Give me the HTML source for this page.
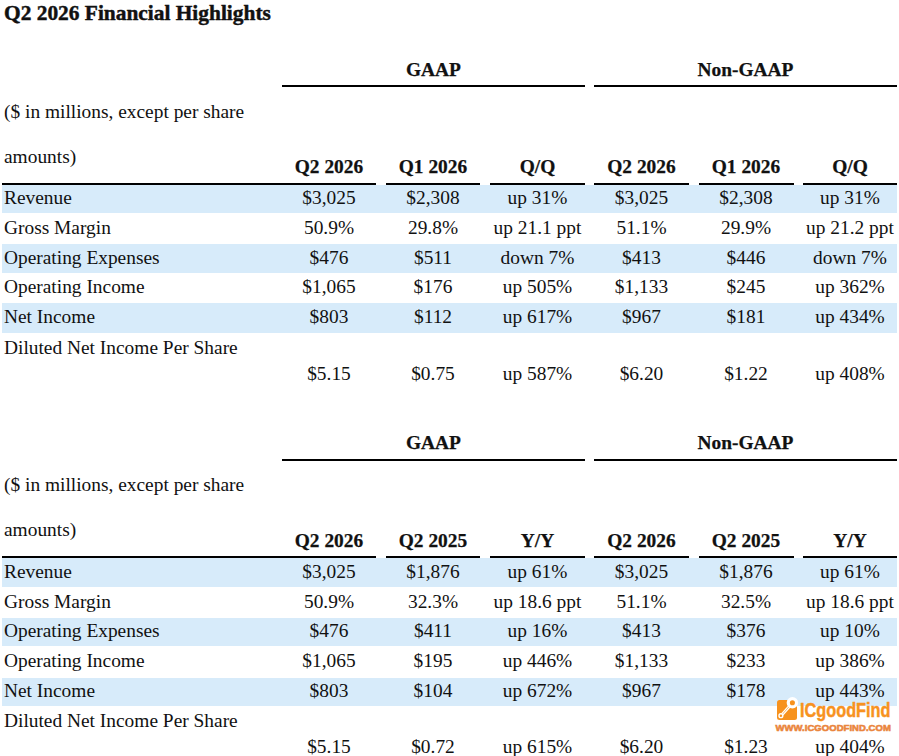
<!DOCTYPE html>
<html><head><meta charset="utf-8"><style>
html,body{margin:0;padding:0;background:#fff;width:899px;height:756px;overflow:hidden;}
body{position:relative;font-family:"Liberation Serif",serif;color:#111;}
.t{position:absolute;white-space:nowrap;}
.r{position:absolute;}
</style></head><body>
<div class="t" style="left:4.00px;top:3.08px;font-size:21.4px;line-height:21.4px;font-weight:bold;-webkit-text-stroke:0.25px #111;-webkit-text-stroke:0.45px #111;">Q2 2026 Financial Highlights</div>
<div class="r" style="left:2px;top:185px;width:894.5px;height:28px;background:#D7EBFA"></div>
<div class="r" style="left:2px;top:244px;width:894.5px;height:29px;background:#D7EBFA"></div>
<div class="r" style="left:2px;top:303px;width:894.5px;height:30px;background:#D7EBFA"></div>
<div class="r" style="left:282px;top:85px;width:303px;height:2px;background:#000"></div>
<div class="r" style="left:594px;top:85px;width:303px;height:2px;background:#000"></div>
<div class="t" style="left:283.50px;width:300px;text-align:center;top:59.75px;font-size:19.4px;line-height:19.4px;font-weight:bold;-webkit-text-stroke:0.25px #111;">GAAP</div>
<div class="t" style="left:595.50px;width:300px;text-align:center;top:59.75px;font-size:19.4px;line-height:19.4px;font-weight:bold;-webkit-text-stroke:0.25px #111;">Non-GAAP</div>
<div class="t" style="left:4.00px;top:101.75px;font-size:19.4px;line-height:19.4px;">($ in millions, except per share</div>
<div class="t" style="left:4.00px;top:146.75px;font-size:19.4px;line-height:19.4px;">amounts)</div>
<div class="t" style="left:179.00px;width:300px;text-align:center;top:156.75px;font-size:19.4px;line-height:19.4px;font-weight:bold;-webkit-text-stroke:0.25px #111;">Q2 2026</div>
<div class="t" style="left:283.00px;width:300px;text-align:center;top:156.75px;font-size:19.4px;line-height:19.4px;font-weight:bold;-webkit-text-stroke:0.25px #111;">Q1 2026</div>
<div class="t" style="left:387.50px;width:300px;text-align:center;top:156.75px;font-size:19.4px;line-height:19.4px;font-weight:bold;-webkit-text-stroke:0.25px #111;">Q/Q</div>
<div class="t" style="left:491.50px;width:300px;text-align:center;top:156.75px;font-size:19.4px;line-height:19.4px;font-weight:bold;-webkit-text-stroke:0.25px #111;">Q2 2026</div>
<div class="t" style="left:596.00px;width:300px;text-align:center;top:156.75px;font-size:19.4px;line-height:19.4px;font-weight:bold;-webkit-text-stroke:0.25px #111;">Q1 2026</div>
<div class="t" style="left:700.00px;width:300px;text-align:center;top:156.75px;font-size:19.4px;line-height:19.4px;font-weight:bold;-webkit-text-stroke:0.25px #111;">Q/Q</div>
<div class="r" style="left:2px;top:183px;width:374px;height:2px;background:#000"></div>
<div class="r" style="left:386px;top:183px;width:94px;height:2px;background:#000"></div>
<div class="r" style="left:490px;top:183px;width:95px;height:2px;background:#000"></div>
<div class="r" style="left:594px;top:183px;width:95px;height:2px;background:#000"></div>
<div class="r" style="left:699px;top:183px;width:94.5px;height:2px;background:#000"></div>
<div class="r" style="left:803px;top:183px;width:94px;height:2px;background:#000"></div>
<div class="t" style="left:4.00px;top:187.75px;font-size:19.4px;line-height:19.4px;">Revenue</div>
<div class="t" style="left:179.00px;width:300px;text-align:center;top:187.75px;font-size:19.4px;line-height:19.4px;">$3,025</div>
<div class="t" style="left:283.00px;width:300px;text-align:center;top:187.75px;font-size:19.4px;line-height:19.4px;">$2,308</div>
<div class="t" style="left:387.50px;width:300px;text-align:center;top:187.75px;font-size:19.4px;line-height:19.4px;">up 31%</div>
<div class="t" style="left:491.50px;width:300px;text-align:center;top:187.75px;font-size:19.4px;line-height:19.4px;">$3,025</div>
<div class="t" style="left:596.00px;width:300px;text-align:center;top:187.75px;font-size:19.4px;line-height:19.4px;">$2,308</div>
<div class="t" style="left:700.00px;width:300px;text-align:center;top:187.75px;font-size:19.4px;line-height:19.4px;">up 31%</div>
<div class="t" style="left:4.00px;top:217.75px;font-size:19.4px;line-height:19.4px;">Gross Margin</div>
<div class="t" style="left:179.00px;width:300px;text-align:center;top:217.75px;font-size:19.4px;line-height:19.4px;">50.9%</div>
<div class="t" style="left:283.00px;width:300px;text-align:center;top:217.75px;font-size:19.4px;line-height:19.4px;">29.8%</div>
<div class="t" style="left:387.50px;width:300px;text-align:center;top:217.75px;font-size:19.4px;line-height:19.4px;">up 21.1 ppt</div>
<div class="t" style="left:491.50px;width:300px;text-align:center;top:217.75px;font-size:19.4px;line-height:19.4px;">51.1%</div>
<div class="t" style="left:596.00px;width:300px;text-align:center;top:217.75px;font-size:19.4px;line-height:19.4px;">29.9%</div>
<div class="t" style="left:700.00px;width:300px;text-align:center;top:217.75px;font-size:19.4px;line-height:19.4px;">up 21.2 ppt</div>
<div class="t" style="left:4.00px;top:247.75px;font-size:19.4px;line-height:19.4px;">Operating Expenses</div>
<div class="t" style="left:179.00px;width:300px;text-align:center;top:247.75px;font-size:19.4px;line-height:19.4px;">$476</div>
<div class="t" style="left:283.00px;width:300px;text-align:center;top:247.75px;font-size:19.4px;line-height:19.4px;">$511</div>
<div class="t" style="left:387.50px;width:300px;text-align:center;top:247.75px;font-size:19.4px;line-height:19.4px;">down 7%</div>
<div class="t" style="left:491.50px;width:300px;text-align:center;top:247.75px;font-size:19.4px;line-height:19.4px;">$413</div>
<div class="t" style="left:596.00px;width:300px;text-align:center;top:247.75px;font-size:19.4px;line-height:19.4px;">$446</div>
<div class="t" style="left:700.00px;width:300px;text-align:center;top:247.75px;font-size:19.4px;line-height:19.4px;">down 7%</div>
<div class="t" style="left:4.00px;top:276.75px;font-size:19.4px;line-height:19.4px;">Operating Income</div>
<div class="t" style="left:179.00px;width:300px;text-align:center;top:276.75px;font-size:19.4px;line-height:19.4px;">$1,065</div>
<div class="t" style="left:283.00px;width:300px;text-align:center;top:276.75px;font-size:19.4px;line-height:19.4px;">$176</div>
<div class="t" style="left:387.50px;width:300px;text-align:center;top:276.75px;font-size:19.4px;line-height:19.4px;">up 505%</div>
<div class="t" style="left:491.50px;width:300px;text-align:center;top:276.75px;font-size:19.4px;line-height:19.4px;">$1,133</div>
<div class="t" style="left:596.00px;width:300px;text-align:center;top:276.75px;font-size:19.4px;line-height:19.4px;">$245</div>
<div class="t" style="left:700.00px;width:300px;text-align:center;top:276.75px;font-size:19.4px;line-height:19.4px;">up 362%</div>
<div class="t" style="left:4.00px;top:306.75px;font-size:19.4px;line-height:19.4px;">Net Income</div>
<div class="t" style="left:179.00px;width:300px;text-align:center;top:306.75px;font-size:19.4px;line-height:19.4px;">$803</div>
<div class="t" style="left:283.00px;width:300px;text-align:center;top:306.75px;font-size:19.4px;line-height:19.4px;">$112</div>
<div class="t" style="left:387.50px;width:300px;text-align:center;top:306.75px;font-size:19.4px;line-height:19.4px;">up 617%</div>
<div class="t" style="left:491.50px;width:300px;text-align:center;top:306.75px;font-size:19.4px;line-height:19.4px;">$967</div>
<div class="t" style="left:596.00px;width:300px;text-align:center;top:306.75px;font-size:19.4px;line-height:19.4px;">$181</div>
<div class="t" style="left:700.00px;width:300px;text-align:center;top:306.75px;font-size:19.4px;line-height:19.4px;">up 434%</div>
<div class="t" style="left:4.00px;top:337.75px;font-size:19.4px;line-height:19.4px;">Diluted Net Income Per Share</div>
<div class="t" style="left:179.00px;width:300px;text-align:center;top:363.75px;font-size:19.4px;line-height:19.4px;">$5.15</div>
<div class="t" style="left:283.00px;width:300px;text-align:center;top:363.75px;font-size:19.4px;line-height:19.4px;">$0.75</div>
<div class="t" style="left:387.50px;width:300px;text-align:center;top:363.75px;font-size:19.4px;line-height:19.4px;">up 587%</div>
<div class="t" style="left:491.50px;width:300px;text-align:center;top:363.75px;font-size:19.4px;line-height:19.4px;">$6.20</div>
<div class="t" style="left:596.00px;width:300px;text-align:center;top:363.75px;font-size:19.4px;line-height:19.4px;">$1.22</div>
<div class="t" style="left:700.00px;width:300px;text-align:center;top:363.75px;font-size:19.4px;line-height:19.4px;">up 408%</div>
<div class="r" style="left:2px;top:558px;width:894.5px;height:28.5px;background:#D7EBFA"></div>
<div class="r" style="left:2px;top:618px;width:894.5px;height:28px;background:#D7EBFA"></div>
<div class="r" style="left:2px;top:677.5px;width:894.5px;height:28.5px;background:#D7EBFA"></div>
<div class="r" style="left:282px;top:459px;width:303px;height:2px;background:#000"></div>
<div class="r" style="left:594px;top:459px;width:303px;height:2px;background:#000"></div>
<div class="t" style="left:283.50px;width:300px;text-align:center;top:432.75px;font-size:19.4px;line-height:19.4px;font-weight:bold;-webkit-text-stroke:0.25px #111;">GAAP</div>
<div class="t" style="left:595.50px;width:300px;text-align:center;top:432.75px;font-size:19.4px;line-height:19.4px;font-weight:bold;-webkit-text-stroke:0.25px #111;">Non-GAAP</div>
<div class="t" style="left:4.00px;top:474.75px;font-size:19.4px;line-height:19.4px;">($ in millions, except per share</div>
<div class="t" style="left:4.00px;top:519.75px;font-size:19.4px;line-height:19.4px;">amounts)</div>
<div class="t" style="left:179.00px;width:300px;text-align:center;top:530.75px;font-size:19.4px;line-height:19.4px;font-weight:bold;-webkit-text-stroke:0.25px #111;">Q2 2026</div>
<div class="t" style="left:283.00px;width:300px;text-align:center;top:530.75px;font-size:19.4px;line-height:19.4px;font-weight:bold;-webkit-text-stroke:0.25px #111;">Q2 2025</div>
<div class="t" style="left:387.50px;width:300px;text-align:center;top:530.75px;font-size:19.4px;line-height:19.4px;font-weight:bold;-webkit-text-stroke:0.25px #111;">Y/Y</div>
<div class="t" style="left:491.50px;width:300px;text-align:center;top:530.75px;font-size:19.4px;line-height:19.4px;font-weight:bold;-webkit-text-stroke:0.25px #111;">Q2 2026</div>
<div class="t" style="left:596.00px;width:300px;text-align:center;top:530.75px;font-size:19.4px;line-height:19.4px;font-weight:bold;-webkit-text-stroke:0.25px #111;">Q2 2025</div>
<div class="t" style="left:700.00px;width:300px;text-align:center;top:530.75px;font-size:19.4px;line-height:19.4px;font-weight:bold;-webkit-text-stroke:0.25px #111;">Y/Y</div>
<div class="r" style="left:2px;top:556px;width:374px;height:2px;background:#000"></div>
<div class="r" style="left:386px;top:556px;width:94px;height:2px;background:#000"></div>
<div class="r" style="left:490px;top:556px;width:95px;height:2px;background:#000"></div>
<div class="r" style="left:594px;top:556px;width:95px;height:2px;background:#000"></div>
<div class="r" style="left:699px;top:556px;width:94.5px;height:2px;background:#000"></div>
<div class="r" style="left:803px;top:556px;width:94px;height:2px;background:#000"></div>
<div class="t" style="left:4.00px;top:561.75px;font-size:19.4px;line-height:19.4px;">Revenue</div>
<div class="t" style="left:179.00px;width:300px;text-align:center;top:561.75px;font-size:19.4px;line-height:19.4px;">$3,025</div>
<div class="t" style="left:283.00px;width:300px;text-align:center;top:561.75px;font-size:19.4px;line-height:19.4px;">$1,876</div>
<div class="t" style="left:387.50px;width:300px;text-align:center;top:561.75px;font-size:19.4px;line-height:19.4px;">up 61%</div>
<div class="t" style="left:491.50px;width:300px;text-align:center;top:561.75px;font-size:19.4px;line-height:19.4px;">$3,025</div>
<div class="t" style="left:596.00px;width:300px;text-align:center;top:561.75px;font-size:19.4px;line-height:19.4px;">$1,876</div>
<div class="t" style="left:700.00px;width:300px;text-align:center;top:561.75px;font-size:19.4px;line-height:19.4px;">up 61%</div>
<div class="t" style="left:4.00px;top:591.75px;font-size:19.4px;line-height:19.4px;">Gross Margin</div>
<div class="t" style="left:179.00px;width:300px;text-align:center;top:591.75px;font-size:19.4px;line-height:19.4px;">50.9%</div>
<div class="t" style="left:283.00px;width:300px;text-align:center;top:591.75px;font-size:19.4px;line-height:19.4px;">32.3%</div>
<div class="t" style="left:387.50px;width:300px;text-align:center;top:591.75px;font-size:19.4px;line-height:19.4px;">up 18.6 ppt</div>
<div class="t" style="left:491.50px;width:300px;text-align:center;top:591.75px;font-size:19.4px;line-height:19.4px;">51.1%</div>
<div class="t" style="left:596.00px;width:300px;text-align:center;top:591.75px;font-size:19.4px;line-height:19.4px;">32.5%</div>
<div class="t" style="left:700.00px;width:300px;text-align:center;top:591.75px;font-size:19.4px;line-height:19.4px;">up 18.6 ppt</div>
<div class="t" style="left:4.00px;top:620.75px;font-size:19.4px;line-height:19.4px;">Operating Expenses</div>
<div class="t" style="left:179.00px;width:300px;text-align:center;top:620.75px;font-size:19.4px;line-height:19.4px;">$476</div>
<div class="t" style="left:283.00px;width:300px;text-align:center;top:620.75px;font-size:19.4px;line-height:19.4px;">$411</div>
<div class="t" style="left:387.50px;width:300px;text-align:center;top:620.75px;font-size:19.4px;line-height:19.4px;">up 16%</div>
<div class="t" style="left:491.50px;width:300px;text-align:center;top:620.75px;font-size:19.4px;line-height:19.4px;">$413</div>
<div class="t" style="left:596.00px;width:300px;text-align:center;top:620.75px;font-size:19.4px;line-height:19.4px;">$376</div>
<div class="t" style="left:700.00px;width:300px;text-align:center;top:620.75px;font-size:19.4px;line-height:19.4px;">up 10%</div>
<div class="t" style="left:4.00px;top:650.75px;font-size:19.4px;line-height:19.4px;">Operating Income</div>
<div class="t" style="left:179.00px;width:300px;text-align:center;top:650.75px;font-size:19.4px;line-height:19.4px;">$1,065</div>
<div class="t" style="left:283.00px;width:300px;text-align:center;top:650.75px;font-size:19.4px;line-height:19.4px;">$195</div>
<div class="t" style="left:387.50px;width:300px;text-align:center;top:650.75px;font-size:19.4px;line-height:19.4px;">up 446%</div>
<div class="t" style="left:491.50px;width:300px;text-align:center;top:650.75px;font-size:19.4px;line-height:19.4px;">$1,133</div>
<div class="t" style="left:596.00px;width:300px;text-align:center;top:650.75px;font-size:19.4px;line-height:19.4px;">$233</div>
<div class="t" style="left:700.00px;width:300px;text-align:center;top:650.75px;font-size:19.4px;line-height:19.4px;">up 386%</div>
<div class="t" style="left:4.00px;top:680.75px;font-size:19.4px;line-height:19.4px;">Net Income</div>
<div class="t" style="left:179.00px;width:300px;text-align:center;top:680.75px;font-size:19.4px;line-height:19.4px;">$803</div>
<div class="t" style="left:283.00px;width:300px;text-align:center;top:680.75px;font-size:19.4px;line-height:19.4px;">$104</div>
<div class="t" style="left:387.50px;width:300px;text-align:center;top:680.75px;font-size:19.4px;line-height:19.4px;">up 672%</div>
<div class="t" style="left:491.50px;width:300px;text-align:center;top:680.75px;font-size:19.4px;line-height:19.4px;">$967</div>
<div class="t" style="left:596.00px;width:300px;text-align:center;top:680.75px;font-size:19.4px;line-height:19.4px;">$178</div>
<div class="t" style="left:700.00px;width:300px;text-align:center;top:680.75px;font-size:19.4px;line-height:19.4px;">up 443%</div>
<div class="t" style="left:4.00px;top:710.75px;font-size:19.4px;line-height:19.4px;">Diluted Net Income Per Share</div>
<div class="t" style="left:179.00px;width:300px;text-align:center;top:736.75px;font-size:19.4px;line-height:19.4px;">$5.15</div>
<div class="t" style="left:283.00px;width:300px;text-align:center;top:736.75px;font-size:19.4px;line-height:19.4px;">$0.72</div>
<div class="t" style="left:387.50px;width:300px;text-align:center;top:736.75px;font-size:19.4px;line-height:19.4px;">up 615%</div>
<div class="t" style="left:491.50px;width:300px;text-align:center;top:736.75px;font-size:19.4px;line-height:19.4px;">$6.20</div>
<div class="t" style="left:596.00px;width:300px;text-align:center;top:736.75px;font-size:19.4px;line-height:19.4px;">$1.23</div>
<div class="t" style="left:700.00px;width:300px;text-align:center;top:736.75px;font-size:19.4px;line-height:19.4px;">up 404%</div>
<svg style="position:absolute;left:770px;top:690px" width="40" height="40" viewBox="0 0 40 40">
<rect x="7" y="10" width="20" height="20" rx="2.5" fill="#F7921E"/>
<line x1="19.5" y1="16.2" x2="12.2" y2="24.4" stroke="#fff" stroke-width="3"/>
<line x1="19.5" y1="16.2" x2="12.2" y2="24.4" stroke="#F9B466" stroke-width="0.9"/>
<circle cx="22.4" cy="12.8" r="4.15" fill="#F7921E" stroke="#fff" stroke-width="3.2"/>
<circle cx="10.9" cy="25.7" r="1.9" fill="#F7921E" stroke="#fff" stroke-width="1.4"/>
</svg>
<div class="t" style="left:799.5px;top:698.5px;font-family:'Liberation Sans',sans-serif;font-weight:bold;font-size:18px;line-height:20px;color:#F7921E;transform:scale(0.905,1.1);transform-origin:0 0;-webkit-text-stroke:0.4px #F7921E">ICgoodFind</div>
<div class="t" style="left:775.5px;top:723px;font-family:'Liberation Sans',sans-serif;font-weight:bold;font-size:9.5px;line-height:10px;color:#EA853D;-webkit-text-stroke:0.6px #EA853D;letter-spacing:0.05px">WWW.ICGOODFIND.COM</div>
</body></html>
